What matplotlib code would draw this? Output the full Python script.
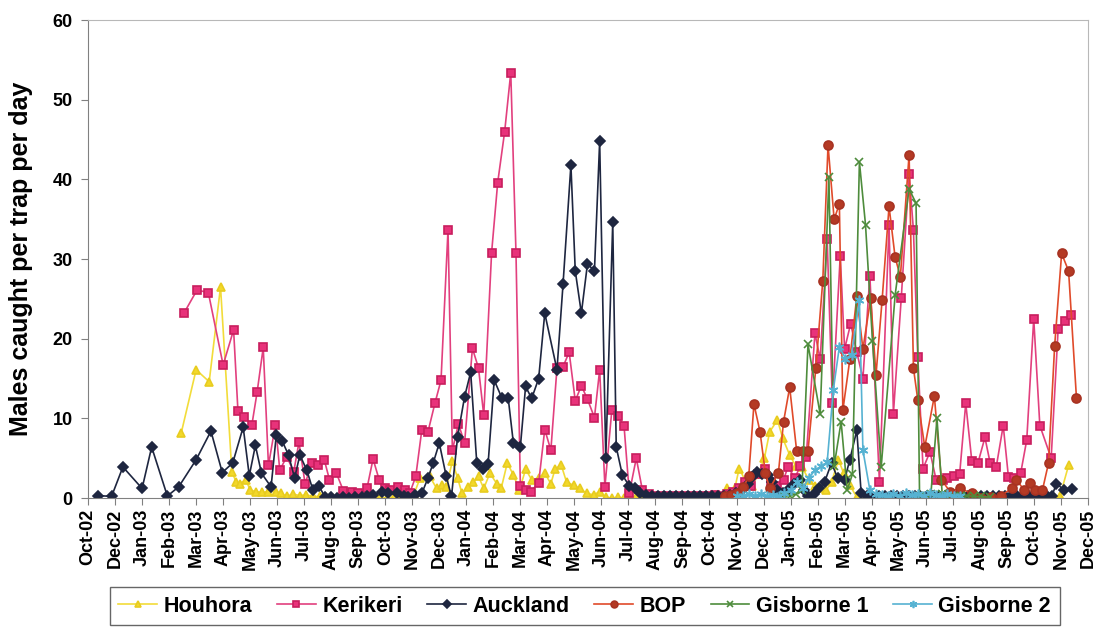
import pandas as pd
import matplotlib
matplotlib.use("Agg")
from matplotlib import pyplot as plt
import matplotlib.dates as mdates

# days after 31 Oct 2002, males caught per trap per day
START = pd.Timestamp("2002-10-31")

houhora = [(107, 8.2), (124, 16.1), (139, 14.6), (152, 26.5), (165, 3.3), (170, 2.0), (174, 1.8), (181, 2.3),
           (186, 1.0), (193, 0.8), (200, 0.7), (206, 0.8), (216, 0.8), (221, 0.6), (228, 0.2), (235, 0.5),
           (243, 0.3), (250, 0.4), (258, 0.2), (266, 0.2), (273, 0.1), (281, 0.0), (289, 0.1), (297, 0.0),
           (304, 0.1), (312, 0.0), (319, 0.1), (327, 0.0), (335, 0.1), (343, 0.0), (351, 0.1), (358, 0.0),
           (366, 0.2), (374, 0.5), (381, 2.5), (392, 2.7), (400, 1.2), (406, 1.6), (411, 1.4), (418, 4.6),
           (424, 2.5), (429, 0.6), (436, 1.4), (442, 2.0), (448, 2.7), (454, 1.2), (461, 3.1), (469, 1.8),
           (474, 1.2), (481, 4.4), (488, 2.9), (495, 1.0), (502, 3.6), (509, 2.3), (517, 2.5), (524, 3.1),
           (531, 1.8), (536, 3.7), (543, 4.1), (549, 2.0), (557, 1.6), (564, 1.2), (572, 0.6), (580, 0.4),
           (587, 0.8), (594, 0.1), (601, 0.0), (608, 0.1), (615, 0.0), (622, 0.2), (629, 0.1), (635, 0.0),
           (642, 0.1), (650, 0.0), (658, 0.1), (668, 0.0), (677, 0.1), (686, 0.0), (695, 0.1), (704, 0.0),
           (713, 0.1), (723, 0.2), (733, 1.2), (742, 1.2), (747, 3.7), (755, 2.0), (762, 1.5), (769, 3.0),
           (776, 5.0), (782, 8.3), (791, 9.8), (797, 7.5), (805, 5.4), (812, 4.0), (819, 3.9), (827, 2.3),
           (834, 1.5), (840, 1.2), (847, 1.0), (853, 2.0), (861, 4.8), (867, 3.1), (874, 1.6), (882, 0.1),
           (889, 0.0), (897, 0.1), (906, 0.0), (915, 0.1), (924, 0.0), (934, 0.1), (943, 0.0), (952, 0.0),
           (961, 0.1), (970, 0.0), (980, 0.1), (989, 0.0), (998, 0.1), (1007, 0.0), (1016, 0.1), (1025, 0.0),
           (1035, 0.1), (1044, 0.0), (1053, 0.1), (1062, 0.0), (1071, 0.0), (1080, 0.1), (1090, 0.0),
           (1099, 0.1), (1108, 0.0), (1115, 0.2), (1125, 4.1)]

kerikeri = [(110, 23.2), (125, 26.1), (138, 25.8), (155, 16.7), (167, 21.1), (172, 10.9), (179, 10.2), (188, 9.2),
            (194, 13.3), (201, 18.9), (207, 4.1), (215, 9.2), (220, 3.5), (228, 5.2), (236, 3.3), (242, 7.0),
            (249, 1.8), (257, 4.4), (264, 4.1), (271, 4.8), (277, 2.3), (285, 3.1), (293, 0.9), (303, 0.8),
            (310, 0.6), (320, 1.2), (327, 4.9), (334, 2.3), (341, 1.2), (346, 1.0), (356, 1.4), (364, 1.0),
            (369, 0.6), (376, 2.7), (383, 8.6), (390, 8.3), (398, 11.9), (405, 14.8), (413, 33.7), (418, 6.0),
            (425, 9.3), (432, 6.9), (441, 18.8), (448, 16.3), (454, 10.4), (463, 30.8), (470, 39.6), (478, 46.0),
            (485, 53.4), (491, 30.7), (496, 1.5), (502, 1.0), (508, 0.8), (517, 1.9), (524, 8.6), (531, 6.0),
            (538, 16.3), (545, 16.5), (552, 18.3), (559, 12.2), (566, 14.1), (573, 12.4), (581, 10.1),
            (587, 16.1), (593, 1.4), (601, 11.1), (608, 10.3), (615, 9.0), (621, 0.6), (629, 5.0), (636, 1.0),
            (644, 0.5), (650, 0.3), (657, 0.3), (664, 0.2), (671, 0.3), (678, 0.2), (685, 0.3), (692, 0.2),
            (699, 0.3), (705, 0.2), (712, 0.3), (719, 0.4), (726, 0.3), (733, 0.5), (740, 0.8), (747, 1.2),
            (754, 2.0), (761, 1.5), (769, 3.0), (777, 3.7), (783, 2.0), (790, 1.5), (798, 2.3), (803, 3.9),
            (811, 2.5), (817, 4.0), (824, 5.2), (834, 20.7), (840, 17.4), (848, 32.5), (854, 11.9), (863, 30.4),
            (868, 18.7), (875, 21.9), (882, 18.3), (889, 15.0), (897, 27.9), (908, 2.0), (919, 34.3),
            (924, 10.6), (933, 25.1), (942, 40.7), (947, 33.6), (952, 17.7), (958, 3.7), (966, 5.8), (973, 2.3),
            (981, 2.3), (986, 2.5), (993, 2.7), (1000, 3.0), (1007, 11.9), (1014, 4.6), (1021, 4.4),
            (1029, 7.6), (1035, 4.4), (1042, 3.9), (1050, 9.1), (1056, 2.6), (1062, 2.5), (1070, 3.1),
            (1077, 7.3), (1085, 22.5), (1092, 9.1), (1105, 5.0), (1113, 21.2), (1121, 22.2), (1128, 23.0)]

auckland = [(12, 0.3), (27, 0.2), (40, 3.9), (62, 1.2), (73, 6.4), (91, 0.25), (104, 1.4), (124, 4.8), (141, 8.4),
            (154, 3.2), (166, 4.4), (178, 8.9), (185, 2.8), (192, 6.6), (199, 3.1), (210, 1.4), (216, 7.9),
            (223, 7.1), (230, 5.4), (237, 2.5), (243, 5.4), (251, 3.5), (258, 1.0), (265, 1.5), (272, 0.1),
            (279, 0.1), (286, 0.0), (293, 0.1), (299, 0.0), (306, 0.1), (314, 0.1), (320, 0.2), (327, 0.4),
            (337, 0.8), (344, 0.6), (354, 0.6), (362, 0.2), (367, 0.1), (375, 0.4), (383, 0.6), (390, 2.5),
            (396, 4.4), (403, 6.9), (411, 2.7), (417, 0.2), (424, 7.7), (432, 12.7), (439, 15.8), (446, 4.4),
            (453, 3.7), (459, 4.3), (466, 14.8), (475, 12.5), (482, 12.6), (488, 6.9), (496, 6.4), (502, 14.0),
            (509, 12.5), (517, 15.0), (524, 23.2), (538, 16.1), (545, 26.9), (554, 41.8), (559, 28.5),
            (566, 23.2), (573, 29.4), (581, 28.5), (587, 44.8), (594, 5.0), (602, 34.6), (606, 6.4), (613, 2.9),
            (621, 1.5), (627, 1.2), (633, 0.6), (640, 0.4), (647, 0.3), (654, 0.3), (661, 0.2), (668, 0.2),
            (674, 0.2), (681, 0.3), (688, 0.2), (695, 0.2), (702, 0.3), (709, 0.2), (716, 0.3), (723, 0.2),
            (730, 0.3), (736, 0.4), (743, 0.6), (750, 1.0), (757, 1.8), (762, 2.6), (767, 3.3), (773, 3.0),
            (780, 2.9), (785, 2.0), (790, 1.0), (797, 0.6), (803, 1.0), (810, 1.8), (817, 2.3), (821, 1.0),
            (826, 0.2), (833, 0.5), (839, 1.2), (845, 2.0), (853, 4.4), (860, 2.5), (868, 2.3), (874, 4.8),
            (882, 8.5), (887, 0.6), (894, 0.3), (900, 0.2), (907, 0.2), (914, 0.3), (921, 0.2), (928, 0.2),
            (935, 0.3), (942, 0.2), (949, 0.2), (955, 0.3), (962, 0.2), (969, 0.2), (976, 0.3), (983, 0.2),
            (990, 0.2), (997, 0.2), (1004, 0.3), (1010, 0.2), (1017, 0.2), (1024, 0.2), (1031, 0.3),
            (1038, 0.2), (1045, 0.2), (1052, 0.2), (1059, 0.3), (1066, 0.2), (1072, 0.2), (1079, 0.3),
            (1086, 0.2), (1093, 0.2), (1100, 0.3), (1106, 0.3), (1111, 1.8), (1120, 1.0), (1129, 1.1)]

bop = [(731, 0.3), (738, 0.4), (744, 0.6), (752, 1.4), (758, 2.7), (764, 11.8), (771, 8.3), (777, 3.2),
       (782, 1.2), (792, 3.1), (798, 9.6), (805, 13.9), (813, 5.9), (820, 5.9), (826, 5.9), (835, 16.3),
       (843, 27.3), (849, 44.3), (856, 35.0), (862, 36.9), (866, 11.0), (874, 17.4), (882, 25.3), (889, 18.7),
       (898, 25.1), (904, 15.4), (911, 24.8), (919, 36.6), (926, 30.2), (932, 27.8), (942, 43.1), (947, 16.3),
       (952, 12.3), (960, 6.4), (971, 12.8), (979, 2.3), (989, 0.8), (1000, 1.2), (1014, 0.6), (1025, 0.0),
       (1036, 0.1), (1047, 0.3), (1060, 1.2), (1065, 2.3), (1074, 1.0), (1081, 1.9), (1087, 1.0),
       (1095, 1.0), (1102, 4.4), (1109, 19.1), (1117, 30.7), (1125, 28.5), (1134, 12.6)]

gisborne1 = [(798, 0.2), (805, 0.3), (812, 0.5), (819, 1.0), (826, 19.3), (840, 10.5), (850, 40.3), (856, 4.0),
             (864, 9.6), (871, 1.0), (877, 3.0), (885, 42.2), (892, 34.3), (900, 19.7), (910, 3.9), (926, 25.5),
             (942, 38.8), (950, 37.0), (954, 0.3), (961, 0.3), (967, 0.5), (974, 10.0), (980, 0.5), (986, 0.3),
             (994, 0.2), (1002, 0.2), (1009, 0.3), (1017, 0.2), (1025, 0.2), (1035, 0.1)]

gisborne2 = [(744, 0.2), (751, 0.3), (758, 0.5), (765, 0.3), (772, 0.5), (779, 0.2), (786, 0.4), (793, 0.3),
             (799, 0.6), (806, 1.0), (813, 2.0), (820, 1.2), (827, 2.5), (834, 3.5), (841, 4.0), (848, 4.5),
             (855, 13.5), (862, 19.0), (869, 17.5), (876, 18.0), (885, 24.8), (889, 6.0), (897, 1.0), (904, 0.5),
             (911, 0.4), (918, 0.3), (924, 0.5), (931, 0.3), (938, 0.6), (945, 0.4), (952, 0.5), (959, 0.3),
             (966, 0.6), (973, 0.4), (980, 0.3), (986, 0.5), (993, 0.2), (1000, 0.3)]


def to_xy(pairs):
    days = [p[0] for p in pairs]
    vals = [p[1] for p in pairs]
    return START + pd.to_timedelta(days, unit="D"), vals


plt.rcParams["font.family"] = ["Liberation Sans", "DejaVu Sans"]
plt.rcParams["font.weight"] = "bold"

fig = plt.figure(figsize=(10.95, 6.28), dpi=100)
ax = fig.add_axes([0.0804, 0.207, 0.913, 0.761])

# name, data, line colour, marker, marker face, marker edge, size
series = [
    ("Houhora", houhora, "#F2DC3A", "^", "#F2D82A", "#E8CC20", 6),
    ("Kerikeri", kerikeri, "#E2407E", "s", "#E8327A", "#C81E5E", 6),
    ("Auckland", auckland, "#1E2640", "D", "#1E2640", "#1E2640", 5),
    ("BOP", bop, "#E04A2A", "o", "#B43A24", "#A83222", 6.5),
    ("Gisborne 1", gisborne1, "#4E8C3C", "x", "#4E8C3C", "#4E8C3C", 6),
    ("Gisborne 2", gisborne2, "#56B2D2", (6, 2, 0), "#56B2D2", "#56B2D2", 7),
]

for name, data, lc, mk, mf, me, ms in series:
    x, y = to_xy(data)
    ax.plot(x, y, color=lc, lw=1.2, marker=mk, markersize=ms,
            markerfacecolor=mf, markeredgecolor=me, markeredgewidth=1.2, label=name)

# axis like the Excel date axis: 31-day major unit
end = START + pd.Timedelta(days=1147)
ax.set_xlim(START, end)
ax.set_ylim(0, 60)
ticks = [START + pd.Timedelta(days=31 * k) for k in range(38)]
ax.set_xticks(ticks)
ax.xaxis.set_major_formatter(mdates.DateFormatter("%b-%y"))
ax.set_yticks(range(0, 61, 10))

ax.tick_params(axis="x", direction="out", length=5, color="#808080", labelsize=13, rotation=90, pad=3)
ax.tick_params(axis="y", direction="out", length=5, color="#808080", labelsize=13, pad=6)
for lab in ax.get_xticklabels() + ax.get_yticklabels():
    lab.set_fontweight("bold")

for side in ["top", "right"]:
    ax.spines[side].set_color("#B8B8B8")
for side in ["left", "bottom"]:
    ax.spines[side].set_color("#808080")

ax.set_ylabel("Males caught per trap per day", fontsize=18, fontweight="bold", labelpad=14)

leg = fig.legend(loc="lower center", bbox_to_anchor=(0.534, -0.013), ncol=6, frameon=True, fancybox=False,
                 prop={"size": 15.5, "weight": "bold"}, handlelength=1.8, handletextpad=0.3,
                 columnspacing=1.15, borderpad=0.4, markerscale=0.75)
leg.get_frame().set_edgecolor("#404040")
leg.get_frame().set_linewidth(1.0)

fig.savefig("out.png", dpi=100)
